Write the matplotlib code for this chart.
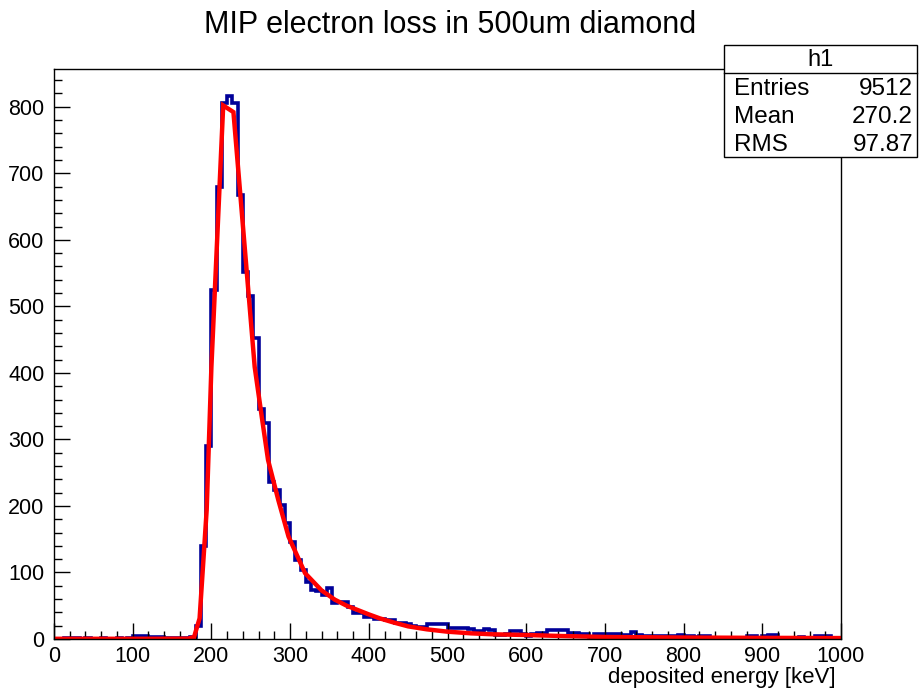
import numpy as np
import matplotlib
matplotlib.use("Agg")
import matplotlib.pyplot as plt
from matplotlib.patches import Rectangle
from matplotlib.lines import Line2D

# histogram h1: 150 bins from 0 to 1000 keV
x_min, x_max, n_bins = 0.0, 1000.0, 150
counts = [
    0, 0, 1, 2, 2, 0, 1, 0, 0, 1,
    0, 0, 1, 0, 1, 4, 5, 4, 3, 3,
    3, 1, 2, 1, 1, 1, 3, 20, 140, 290,
    524, 679, 806, 816, 806, 667, 551, 516, 452, 346,
    324, 236, 224, 201, 174, 146, 119, 104, 86, 74,
    72, 66, 76, 54, 56, 56, 48, 39, 39, 33,
    33, 30, 30, 28, 28, 24, 24, 22, 20, 18,
    18, 23, 23, 23, 22, 16, 16, 16, 16, 15,
    12, 12, 15, 14, 6, 6, 8, 12, 12, 8,
    5, 7, 9, 9, 13, 13, 13, 13, 9, 9,
    8, 8, 3, 7, 8, 7, 7, 7, 6, 6,
    10, 6, 5, 5, 4, 4, 4, 4, 5, 6,
    4, 4, 3, 4, 4, 1, 0, 0, 1, 1,
    1, 0, 4, 5, 1, 5, 6, 6, 1, 2,
    1, 1, 3, 0, 1, 4, 4, 4, 1, 1,
]

# fitted curve as drawn (keV, counts)
fit_energy = [0, 100, 170, 178, 185, 194, 200, 215, 228, 255, 264, 272,
              285, 298, 319, 340, 357, 372, 385, 400, 414, 431, 450, 474,
              500, 530, 559, 601, 644, 703, 800, 900, 1000]
fit_counts = [0.3, 0.3, 0.5, 3, 31, 194, 409, 802, 792, 409, 334, 269,
              209, 154, 99, 73, 59, 50, 44, 37, 31, 25, 19, 14.5,
              11, 8.5, 7, 6, 4.5, 3, 2.2, 1.7, 1.4]

title = "MIP electron loss in 500um diamond"
x_label = "deposited energy [keV]"
stats_name = "h1"
stats_rows = [("Entries", "9512"), ("Mean", "270.2"), ("RMS", "97.87")]

plt.rcParams["font.family"] = ["Liberation Sans", "DejaVu Sans"]

W, H = 919, 691
fig = plt.figure(figsize=(W / 100, H / 100), dpi=100)
ax = fig.add_axes([54 / W, 1 - 639 / H, (841 - 54) / W, (639 - 69) / H])

edges = np.linspace(x_min, x_max, n_bins + 1)
ax.stairs(counts, edges, color="#000099", linewidth=2.6, baseline=0)
ax.plot(fit_energy, fit_counts, color="#ff0000", linewidth=3.2,
        solid_joinstyle="miter")

ax.set_xlim(x_min, x_max)
ax.set_ylim(0, 1.05 * max(counts))

ax.set_xticks(np.arange(0, 1001, 100))
ax.set_xticks(np.arange(0, 1001, 20), minor=True)
ax.set_yticks(np.arange(0, 801, 100))
ax.set_yticks(np.arange(0, 851, 20), minor=True)
ax.tick_params(axis="both", which="both", direction="in", top=False, right=False,
               labelsize=15.5, width=1.0, color="black")
ax.tick_params(axis="x", which="major", length=11.5, pad=5)
ax.tick_params(axis="x", which="minor", length=5.5)
ax.tick_params(axis="y", which="major", length=11.5, pad=7)
ax.tick_params(axis="y", which="minor", length=5.5)
for s in ax.spines.values():
    s.set_linewidth(1.0)

fig.text(450 / W, 1 - 25 / H, title, ha="center", va="center", fontsize=22)
fig.text(836 / W, 1 - 678 / H, x_label, ha="right", va="center", fontsize=16)

# stats box
bx0, bx1, by0, by1 = 724, 917, 45, 157
fig.patches.append(Rectangle((bx0 / W, 1 - by1 / H), (bx1 - bx0) / W, (by1 - by0) / H,
                             transform=fig.transFigure, facecolor="white",
                             edgecolor="black", linewidth=1.0, zorder=5))
fig.lines.append(Line2D([bx0 / W, bx1 / W], [1 - 73 / H, 1 - 73 / H],
                        transform=fig.transFigure, color="black", linewidth=1.0, zorder=6))
fig.text((bx0 + bx1) / 2 / W, 1 - 60 / H, stats_name, ha="center", va="center",
         fontsize=17, zorder=7)
for k, (name, val) in enumerate(stats_rows):
    yy = 1 - (89 + 28 * k) / H
    fig.text(734 / W, yy, name, ha="left", va="center", fontsize=17.5, zorder=7)
    fig.text(913 / W, yy, val, ha="right", va="center", fontsize=17.5, zorder=7)

fig.savefig("out.png", dpi=100)
